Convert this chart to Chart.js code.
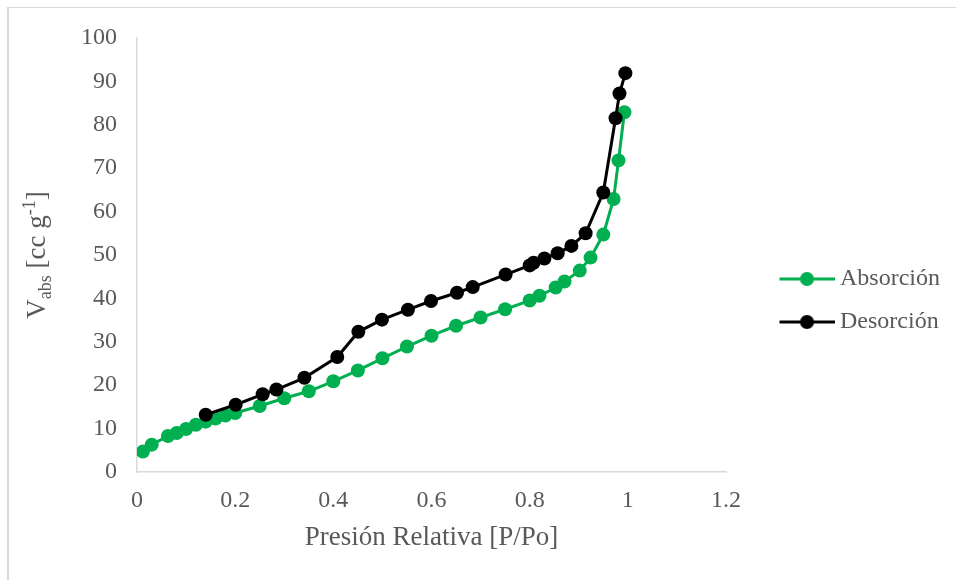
<!DOCTYPE html>
<html>
<head>
<meta charset="utf-8">
<script src="https://cdn.jsdelivr.net/npm/chart.js@4.4.1/dist/chart.umd.min.js"></script>
<style>
  body { margin: 0; background: #fff; }
  #wrap { position: relative; width: 956px; height: 580px; overflow: hidden; }
  #frame { position: absolute; left: 7px; top: 7px; width: 1200px; height: 1200px;
           border-left: 2px solid #d9d9d9; border-top: 1px solid #d9d9d9; }
  canvas { position: absolute; left: 0; top: 0; }
</style>
</head>
<body>
<div id="wrap">
  <div id="frame"></div>
  <canvas id="chart" width="956" height="580"></canvas>
</div>
<script>
// Absorción (adsorption branch)
const absX = [0.012, 0.03, 0.063, 0.081, 0.10, 0.12, 0.14, 0.16, 0.18, 0.20,
  0.25, 0.30, 0.35, 0.40, 0.45, 0.50, 0.55, 0.60, 0.65, 0.70, 0.75, 0.80,
  0.82, 0.853, 0.871, 0.902, 0.924, 0.95, 0.971, 0.981, 0.993];
const absY = [4.7, 6.3, 8.3, 9.0, 9.9, 10.9, 11.6, 12.3, 13.0, 13.6,
  15.2, 17.0, 18.6, 20.9, 23.4, 26.2, 28.9, 31.4, 33.7, 35.6, 37.5, 39.5,
  40.6, 42.5, 43.9, 46.4, 49.4, 54.7, 62.9, 71.8, 82.9];

// Desorción (desorption branch)
const desX = [0.14, 0.201, 0.256, 0.284, 0.341, 0.408, 0.451, 0.499, 0.552,
  0.599, 0.652, 0.684, 0.751, 0.80, 0.808, 0.83, 0.857, 0.885, 0.914,
  0.95, 0.975, 0.983, 0.995];
const desY = [13.2, 15.5, 17.9, 19.0, 21.7, 26.5, 32.3, 35.1, 37.4,
  39.4, 41.3, 42.6, 45.5, 47.6, 48.2, 49.2, 50.4, 52.1, 55.0,
  64.4, 81.5, 87.2, 91.9];

const seriesNames = ["Absorción", "Desorción"];
const seriesColors = ["#00b050", "#000000"];
const xTicks = [0, 0.2, 0.4, 0.6, 0.8, 1, 1.2];
const yTicks = [0, 10, 20, 30, 40, 50, 60, 70, 80, 90, 100];

const textColor = "#595959";
const serif = "'Liberation Serif', 'Times New Roman', serif";

function toPoints(xs, ys) {
  return xs.map((x, i) => ({ x: x, y: ys[i] }));
}

// line + dot marker for the legend (left part left blank as a gap)
const markGap = 41;
function legendMark(color) {
  const c = document.createElement("canvas");
  c.width = 55 + markGap;
  c.height = 16;
  const g = c.getContext("2d");
  g.strokeStyle = color;
  g.lineWidth = 3;
  g.beginPath();
  g.moveTo(markGap, 8);
  g.lineTo(markGap + 55, 8);
  g.stroke();
  g.fillStyle = color;
  g.beginPath();
  g.arc(markGap + 27.5, 8, 7, 0, Math.PI * 2);
  g.fill();
  return c;
}
const marks = seriesColors.map(legendMark);

// y axis title with sub/superscript
const yTitlePlugin = {
  id: "yTitle",
  afterDraw(chart) {
    const ctx = chart.ctx;
    const area = chart.chartArea;
    const parts = [
      ["V", 27, 0],
      ["abs", 18, 6],
      [" [cc g", 27, 0],
      ["-1", 18, -10],
      ["]", 27, 0],
    ];
    ctx.save();
    let total = 0;
    parts.forEach((p) => {
      ctx.font = p[1] + "px " + serif;
      total += ctx.measureText(p[0]).width;
    });
    ctx.translate(36, (area.top + area.bottom) / 2);
    ctx.rotate(-Math.PI / 2);
    ctx.fillStyle = textColor;
    ctx.textBaseline = "alphabetic";
    let x = -total / 2;
    parts.forEach((p) => {
      ctx.font = p[1] + "px " + serif;
      ctx.fillText(p[0], x, 9 + p[2]);
      x += ctx.measureText(p[0]).width;
    });
    ctx.restore();
  },
};

new Chart(document.getElementById("chart"), {
  type: "scatter",
  data: {
    datasets: [
      {
        label: seriesNames[0],
        data: toPoints(absX, absY),
        showLine: true,
        borderColor: seriesColors[0],
        backgroundColor: seriesColors[0],
        borderWidth: 3,
        pointRadius: 7,
        pointHoverRadius: 7,
        pointBorderWidth: 0,
        order: 1,
      },
      {
        label: seriesNames[1],
        data: toPoints(desX, desY),
        showLine: true,
        borderColor: seriesColors[1],
        backgroundColor: seriesColors[1],
        borderWidth: 3,
        pointRadius: 7,
        pointHoverRadius: 7,
        pointBorderWidth: 0,
        order: 0,
      },
    ],
  },
  options: {
    responsive: false,
    animation: false,
    events: [],
    layout: { padding: { left: 60, top: 38, right: 8, bottom: 17 } },
    scales: {
      x: {
        type: "linear",
        min: 0,
        max: 1.2,
        afterBuildTicks: (scale) => {
          scale.ticks = xTicks.map((v) => ({ value: v }));
        },
        afterFit: (scale) => {
          scale.height = 91;
        },
        grid: { display: false, drawTicks: false },
        border: { display: true, color: "#d9d9d9", width: 1.5 },
        ticks: {
          color: textColor,
          padding: 14,
          font: { family: serif, size: 24 },
          callback: (v) => String(+v.toFixed(1)),
        },
        title: {
          display: true,
          text: "Presión Relativa [P/Po]",
          color: textColor,
          font: { family: serif, size: 27 },
          padding: { top: 0, bottom: 9 },
        },
      },
      y: {
        type: "linear",
        min: 0,
        max: 100,
        afterBuildTicks: (scale) => {
          scale.ticks = yTicks.map((v) => ({ value: v }));
        },
        afterFit: (scale) => {
          scale.width = 77;
        },
        grid: { display: false, drawTicks: false },
        border: { display: true, color: "#d9d9d9", width: 1.5 },
        ticks: {
          color: textColor,
          padding: 20,
          font: { family: serif, size: 24 },
        },
      },
    },
    plugins: {
      tooltip: { enabled: false },
      legend: {
        position: "right",
        align: "center",
        labels: {
          color: textColor,
          font: { family: serif, size: 24 },
          usePointStyle: true,
          pointStyleWidth: 42 + markGap,
          padding: 19,
          sort: (a, b) => a.datasetIndex - b.datasetIndex,
          generateLabels(chart) {
            const items = Chart.defaults.plugins.legend.labels.generateLabels(chart);
            items.forEach((it) => {
              it.pointStyle = marks[it.datasetIndex];
            });
            return items;
          },
        },
      },
    },
  },
  plugins: [yTitlePlugin],
});
</script>
</body>
</html>
